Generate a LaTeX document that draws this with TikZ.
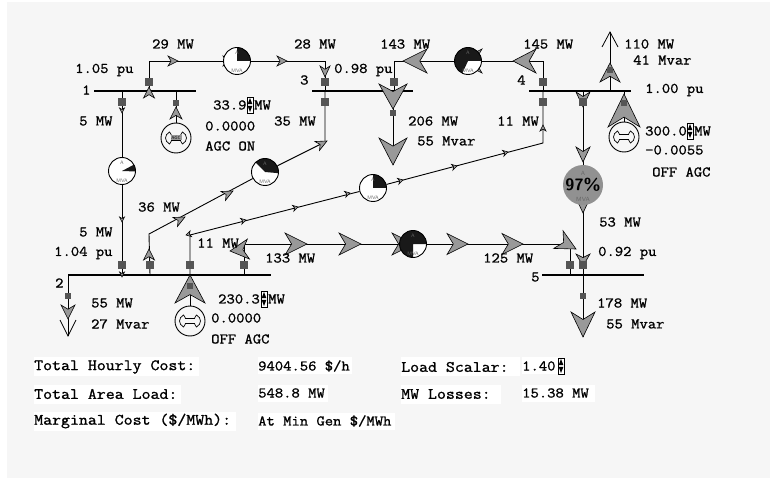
\documentclass[tikz,border=0pt]{standalone}
\usepackage{fontspec}
\usetikzlibrary{positioning, backgrounds}
\newfontfamily\diagfont[FakeBold=1.2, FakeStretch=1.1]{Latin Modern Mono}
\definecolor{panelgray}{HTML}{F6F6F6}
\definecolor{flowgray}{HTML}{999999}
\definecolor{breakergray}{HTML}{555555}
\tikzset{
    lbl/.style={anchor=west, inner sep=0pt, font=\diagfont\fontsize{14.7}{15}\selectfont},
    sumlbl/.style={anchor=west, inner sep=0pt, font=\diagfont\fontsize{15.8}{16}\selectfont},
    whitebox/.style={fill=white, draw=none, inner sep=0pt, anchor=west},
    busbar/.style={fill=black, draw=none, minimum height=2.5pt, inner sep=0pt},
    breaker/.style={fill=breakergray, draw=none, minimum size=8pt, inner sep=0pt},
    smallbreaker/.style={breaker, minimum size=6.5pt},
    line/.style={draw=black, line width=0.9pt},
    meter/.style n args={2}{circle, draw=black, line width=0.9pt, fill=white, minimum size=27pt, inner sep=0pt,
        path picture={\fill[black!90, shift={(path picture bounding box.center)}, x=1pt, y=1pt]
            (0,0) -- (#1:15) arc[start angle=#1, end angle=#2, radius=15] -- cycle;},
        label={[font=\sffamily\fontsize{5}{5}\selectfont, text=black!60, inner sep=0pt, yshift=8.5pt]center:A},
        label={[font=\sffamily\fontsize{5}{5}\selectfont, text=black!60, inner sep=0pt, yshift=-10pt]center:MVA}},
    gen/.style={circle, draw=black, line width=0.9pt, fill=panelgray, minimum size=30pt, inner sep=0pt},
    pics/flowhead/.style n args={3}{code={
        \filldraw[draw=black, line width=0.6pt, fill=#3, x=1pt, y=1pt]
            (0,0) -- (-#1,#2) -- (-0.7*#1,0) -- (-#1,-#2) -- cycle;}},
    pics/openhead/.style n args={2}{code={
        \draw[line width=0.8pt, x=1pt, y=1pt] (-#1,#2) -- (0,0) -- (-#1,-#2);}},
    pics/spinner/.style={code={
        \filldraw[draw=black, fill=white, line width=0.7pt, x=1pt, y=1pt] (-3,-8) rectangle (3,8);
        \fill[black, x=1pt, y=1pt] (-2.4,0.8) -- (2.4,0.8) -- (0,7) -- cycle;
        \fill[black, x=1pt, y=1pt] (-2.4,-0.8) -- (2.4,-0.8) -- (0,-7) -- cycle;}},
    pics/rotor/.style={code={
        \draw[line width=0.7pt, x=1pt, y=1pt] (-4.5,2.5) -- (4.5,2.5) .. controls (5,4) and (6,5.5) .. (6.5,6)
            .. controls (9,5) and (10.5,2) .. (10.5,0) .. controls (10.5,-2) and (9,-5) .. (6.5,-6)
            .. controls (6,-5.5) and (5,-4) .. (4.5,-2.5) -- (-4.5,-2.5) .. controls (-5,-4) and (-6,-5.5) .. (-6.5,-6)
            .. controls (-9,-5) and (-10.5,-2) .. (-10.5,0) .. controls (-10.5,2) and (-9,5) .. (-6.5,6)
            .. controls (-6,5.5) and (-5,4) .. (-4.5,2.5) -- cycle;}},
}

\begin{document}
\begin{tikzpicture}[x=1pt, y=-1pt]
    \useasboundingbox (0,0) rectangle (770,478);

    % panel and buses
    \begin{scope}[on background layer]
        \fill[panelgray] (7,2) rectangle (770,478);
        \node[busbar, minimum width=102pt] (bus1) at (145,91) {};
        \node[busbar, minimum width=101pt] (bus3) at (362.5,91) {};
        \node[busbar, minimum width=102pt] (bus4) at (580,91) {};
        \node[busbar, minimum width=203pt] (bus2) at (169.5,275) {};
        \node[busbar, minimum width=102pt] (bus5) at (593,275) {};
    \end{scope}

    % breakers
    \node[breaker] (brk13) at (149,82) {};
    \node[breaker] (brk12) at (122,102) {};
    \node[smallbreaker] (brkgen1) at (176,103) {};
    \node[breaker] (brk31) at (325,82) {};
    \node[breaker] (brk32) at (325,102) {};
    \node[breaker] (brk34) at (394,82) {};
    \node[smallbreaker] (brkload3) at (393,113) {};
    \node[breaker] (brk43) at (543,82) {};
    \node[breaker] (brk42) at (543,102) {};
    \node[breaker] (brk45) at (583,102) {};
    \node[smallbreaker] (brkload4) at (610,70) {};
    \node[smallbreaker] (brkgen4) at (624,103) {};
    \node[breaker] (brk21) at (122,265) {};
    \node[breaker] (brk23) at (150,265) {};
    \node[breaker] (brk24) at (190,265) {};
    \node[breaker] (brk25) at (244,265) {};
    \node[smallbreaker] (brkgen2) at (190,286) {};
    \node[smallbreaker] (brkload2) at (68,296) {};
    \node[breaker] (brk52) at (570,265) {};
    \node[breaker] (brk54) at (583,265) {};
    \node[smallbreaker] (brkload5) at (583,296) {};

    % meters and generators
    \node[meter={0}{90}] (meter13) at (237,61) {};
    \node[meter={-2}{28}] (meter12) at (122,171) {};
    \node[meter={-5}{135}] (meter23) at (265,172) {};
    \node[meter={0}{245}] (meter34) at (468,61) {};
    \node[meter={0}{90}] (meter24) at (373,188) {};
    \node[meter={0}{270}] (meter25) at (413,244) {};
    \node[gen] (gen1) at (176,138) {};
    \node[gen] (gen4) at (624,137) {};
    \node[gen] (gen2) at (190,321) {};
    \pic at (gen1) {rotor};
    \pic at (gen4) {rotor};
    \pic at (gen2) {rotor};
    \node[fill=black!40, minimum width=11pt, minimum height=5pt, inner sep=0pt, font=\sffamily\fontsize{4.5}{5}\selectfont] (agctag) at (gen1) {AGC};
    \node[circle, fill=flowgray!95!black, minimum size=40pt, inner sep=0pt, font=\sffamily\bfseries\fontsize{16.5}{16}\selectfont,
        label={[font=\sffamily\fontsize{6}{6}\selectfont, text=black!60, inner sep=0pt, yshift=12pt]center:A},
        label={[font=\sffamily\fontsize{6}{6}\selectfont, text=black!60, inner sep=0pt, yshift=-14pt]center:MVA}] (meter45) at (583,185) {97\%};

    % free ends
    \coordinate (c13a) at (149,61);
    \coordinate (c13b) at (325,61);
    \coordinate (c23a) at (325,142);
    \coordinate (c23b) at (149,234);
    \coordinate (c34a) at (394,61);
    \coordinate (c34b) at (543,61);
    \coordinate (c24a) at (543,143);
    \coordinate (c24b) at (190,235);
    \coordinate (c25a) at (244,244);
    \coordinate (c25b) at (570,244);
    \coordinate (load3) at (393,165);
    \coordinate (load4) at (610,32);
    \coordinate (load2) at (68,336);
    \coordinate (load5) at (583,337);

    \begin{scope}[on background layer]
        % connectors
        \draw[line] (brk13 |- bus1) -- (c13a) -- (meter13) -- (c13b) -- (brk31 |- bus3);
        \draw[line] (brk12 |- bus1) -- (meter12) -- (brk21 |- bus2);
        \draw[line] (brkgen1 |- bus1) -- (gen1);
        \draw[line] (brk32 |- bus3) -- (c23a) -- (meter23) -- (c23b) -- (brk23 |- bus2);
        \draw[line] (brk34 |- bus3) -- (c34a) -- (meter34) -- (c34b) -- (brk43 |- bus4);
        \draw[line] (brk42 |- bus4) -- (c24a) -- (meter24) -- (c24b) -- (brk24 |- bus2);
        \draw[line] (brk25 |- bus2) -- (c25a) -- (meter25) -- (c25b) -- (brk52 |- bus5);
        \draw[line] (brkload3 |- bus3) -- (load3);
        \draw[line] (brkload4 |- bus4) -- (load4);
        \draw[line] (brkgen4 |- bus4) -- (gen4);
        \draw[line] (brkgen2 |- bus2) -- (gen2);
        \draw[line] (brkload2 |- bus2) -- (load2);
        \draw[line] (brk45 |- bus4) -- (brk54 |- bus5);
        \draw[line] (brkload5 |- bus5) -- (load5);

        % flow heads
        \pic[rotate=90] at (149,87) {flowhead={11}{5.5}{flowgray}};
        \pic at (178,61) {flowhead={10}{5}{flowgray}};
        \pic at (233,61) {flowhead={10}{5}{flowgray}};
        \pic at (287,61) {flowhead={10}{5}{flowgray}};
        \pic[rotate=-90] at (325,77) {flowhead={11}{5}{flowgray}};
        \pic[rotate=-90] at (122,113) {flowhead={5}{2.5}{flowgray}};
        \pic[rotate=-90] at (122,222) {flowhead={5}{2.5}{flowgray}};
        \pic[rotate=-90] at (122,277) {flowhead={5}{2.5}{flowgray}};
        \pic[rotate=90] at (176,107) {flowhead={12}{6}{flowgray}};
        \pic[rotate=27] at (327,141) {flowhead={11}{5}{flowgray}};
        \pic[rotate=27] at (233,191) {flowhead={11}{5}{flowgray}};
        \pic[rotate=27] at (185,217) {flowhead={11}{5}{flowgray}};
        \pic[rotate=90] at (149,249) {flowhead={11}{5.5}{flowgray}};
        \pic[rotate=14.5] at (508,152) {flowhead={5}{3}{flowgray}};
        \pic[rotate=14.5] at (457,166) {flowhead={5}{3}{flowgray}};
        \pic[rotate=14.5] at (403,180) {flowhead={5}{3}{flowgray}};
        \pic[rotate=14.5] at (350,193) {flowhead={5}{3}{flowgray}};
        \pic[rotate=14.5] at (298,207) {flowhead={5}{3}{flowgray}};
        \pic[rotate=14.5] at (246,220) {flowhead={5}{3}{flowgray}};
        \pic[rotate=194.5] at (186,235) {flowhead={5}{3}{flowgray}};
        \pic[rotate=90] at (543,125) {flowhead={6}{3}{flowgray}};
        \pic[rotate=180] at (403,61) {flowhead={24}{12}{flowgray}};
        \pic[rotate=180] at (513,61) {flowhead={23}{12}{flowgray}};
        \pic[rotate=180] at (458,61) {flowhead={24}{12}{flowgray}};
        \pic[rotate=-90] at (393,109) {flowhead={25}{14}{flowgray}};
        \pic[rotate=-90] at (393,165) {flowhead={27}{14}{flowgray}};
        \pic[rotate=90] at (610,32) {openhead={15}{8}};
        \pic[rotate=90] at (610,63) {flowhead={19}{10}{flowgray}};
        \pic[rotate=90] at (624,94) {flowhead={33}{16}{flowgray}};
        \pic[rotate=90] at (190,275) {flowhead={28}{15}{flowgray}};
        \pic[rotate=-90] at (583,107) {flowhead={15}{7}{flowgray}};
        \pic[rotate=-90] at (583,162) {flowhead={15}{7}{flowgray}};
        \pic[rotate=-90] at (583,213) {flowhead={15}{7}{flowgray}};
        \pic[rotate=-90] at (583,266) {flowhead={12}{7}{flowgray}};
        \pic[rotate=-90] at (583,337) {flowhead={25}{12}{flowgray}};
        \pic[rotate=-90] at (68,319) {flowhead={14}{7}{flowgray}};
        \pic[rotate=-90] at (68,336) {openhead={16}{8}};
        \pic[rotate=186] at (230,251) {flowhead={18.5}{10}{flowgray}};
        \pic[rotate=-28] at (576,249) {flowhead={20}{10}{flowgray}};
        \pic at (307,244) {flowhead={22}{11}{flowgray}};
        \pic at (361,244) {flowhead={22}{11}{flowgray}};
        \pic at (414,244) {flowhead={22}{11}{flowgray}};
        \pic at (468,244) {flowhead={21}{10.5}{flowgray}};
        \pic at (523,244) {flowhead={21}{10.5}{flowgray}};
    \end{scope}

    % bus numbers and flows
    \node[lbl] (txt1) at (152,44) {29 MW};
    \node[lbl] (txt2) at (294,44) {28 MW};
    \node[lbl] (txt3) at (75,70) {1.05 pu};
    \node[lbl] (txt4) at (82,90) {1};
    \node[lbl] (txt5) at (79,121) {5 MW};
    \node[lbl] (txt6) at (213,105) {33.9};
    \pic at (250,105) {spinner};
    \node[lbl] (txt7) at (254,105) {MW};
    \node[lbl] (txt8) at (205,126) {0.0000};
    \node[lbl] (txt9) at (205,146) {AGC ON};
    \node[lbl] (txt10) at (274,121) {35 MW};
    \node[lbl] (txt11) at (300,80) {3};
    \node[lbl] (txt12) at (334,70) {0.98 pu};
    \node[lbl] (txt13) at (380,44) {143 MW};
    \node[lbl] (txt14) at (523,44) {145 MW};
    \node[lbl] (txt15) at (517,80) {4};
    \node[lbl] (txt16) at (408,121) {206 MW};
    \node[lbl] (txt17) at (417,141) {55 Mvar};
    \node[lbl] (txt18) at (497,121) {11 MW};
    \node[lbl] (txt19) at (624,44) {110 MW};
    \node[lbl] (txt20) at (633,60) {41 Mvar};
    \node[lbl] (txt21) at (645,90) {1.00 pu};
    \node[lbl] (txt22) at (645,131) {300.0};
    \pic at (690,131) {spinner};
    \node[lbl] (txt23) at (694,131) {MW};
    \node[lbl] (txt24) at (645,150) {-0.0055};
    \node[lbl] (txt25) at (652,172) {OFF AGC};
    \node[lbl] (txt26) at (138,207) {36 MW};
    \node[lbl] (txt27) at (79,232) {5 MW};
    \node[lbl] (txt28) at (54,253) {1.04 pu};
    \node[lbl] (txt29) at (55,283) {2};
    \node[lbl] (txt30) at (197,243) {11 MW};
    \node[lbl] (txt31) at (265,258) {133 MW};
    \node[lbl] (txt32) at (483,258) {125 MW};
    \node[lbl] (txt33) at (599,222) {53 MW};
    \node[lbl] (txt34) at (598,253) {0.92 pu};
    \node[lbl] (txt35) at (531,277) {5};
    \node[lbl] (txt36) at (597,303) {178 MW};
    \node[lbl] (txt37) at (606,324) {55 Mvar};
    \node[lbl] (txt38) at (91,303) {55 MW};
    \node[lbl] (txt39) at (91,324) {27 Mvar};
    \node[lbl] (txt40) at (218,299) {230.3};
    \pic at (264,299) {spinner};
    \node[lbl] (txt41) at (268,299) {MW};
    \node[lbl] (txt42) at (211,318) {0.0000};
    \node[lbl] (txt43) at (211,339) {OFF AGC};

    % summary
    \node[whitebox, minimum width=165pt, minimum height=19pt] (box1) at (34,366.5) {};
    \node[whitebox, minimum width=147pt, minimum height=19pt] (box2) at (34,394.5) {};
    \node[whitebox, minimum width=202pt, minimum height=19pt] (box3) at (34,421.5) {};
    \node[whitebox, minimum width=94pt, minimum height=17pt] (box4) at (258,365.5) {};
    \node[whitebox, minimum width=70pt, minimum height=17pt] (box5) at (258,393) {};
    \node[whitebox, minimum width=137pt, minimum height=17pt] (box6) at (258,421) {};
    \node[whitebox, minimum width=119pt, minimum height=19pt] (box7) at (401,366.5) {};
    \node[whitebox, minimum width=100pt, minimum height=19pt] (box8) at (401,394.5) {};
    \node[whitebox, minimum width=37pt, minimum height=17pt] (box9) at (522,365.5) {};
    \node[whitebox, minimum width=73pt, minimum height=17pt] (box10) at (522,393) {};
    \node[sumlbl] (sum1) at (34,367) {Total Hourly Cost:};
    \node[sumlbl] (sum2) at (34,394) {Total Area Load:};
    \node[sumlbl] (sum3) at (34,421) {Marginal Cost (\$/MWh):};
    \node[lbl] (sum4) at (258,366) {9404.56 \$/h};
    \node[lbl] (sum5) at (258,393) {548.8 MW};
    \node[lbl] (sum6) at (258,421) {At Min Gen \$/MWh};
    \node[sumlbl] (sum7) at (401,367) {Load Scalar:};
    \node[sumlbl] (sum8) at (401,394) {MW Losses:};
    \node[lbl] (sum9) at (522,366) {1.40};
    \pic at (561,366) {spinner};
    \node[lbl] (sum10) at (522,393) {15.38 MW};
\end{tikzpicture}
\end{document}
